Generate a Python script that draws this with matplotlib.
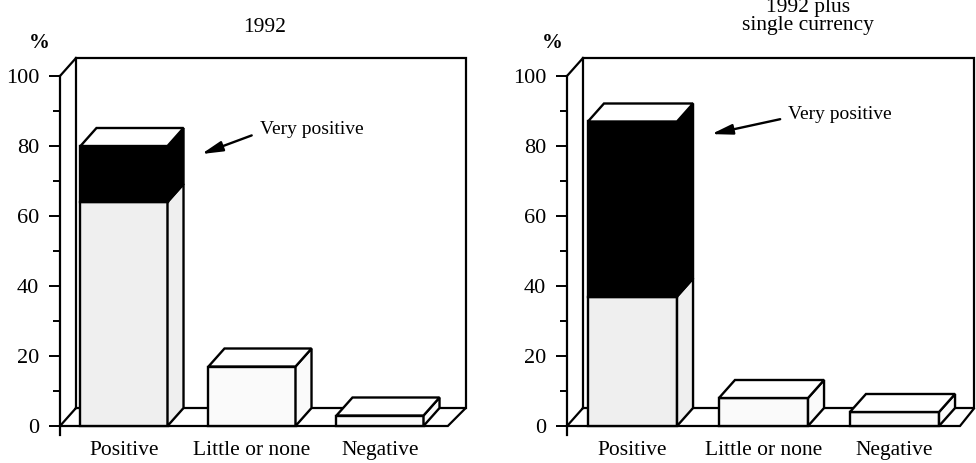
import matplotlib
matplotlib.use('Agg')
import matplotlib.pyplot as plt
from matplotlib.patches import Polygon
import numpy as np

plt.rcParams['font.family'] = ['Liberation Serif', 'DejaVu Serif']

# ---------------- data ----------------
categories = ['Positive', 'Little or none', 'Negative']
panel_titles = ['1992', '1992 plus\nsingle currency']
base_1992 = [64, 17, 3]        # stippled part
very_1992 = [16, 0, 0]         # black "very positive" part
base_single = [37, 8, 4]
very_single = [50, 0, 0]
annotation_text = 'Very positive'
yticks_major = [0, 20, 40, 60, 80, 100]
yticks_minor = [10, 30, 50, 70, 90]

# ---------------- layout ----------------
W, H = 976, 463
fig = plt.figure(figsize=(W / 100, H / 100), dpi=100)
ORIGIN_Y = 426      # pixel row of y = 0 (from top)
PX_PER_Y = 3.5
YMAX = 105.5
STIPPLE = '#efefef'


def make_axes(x_axis_px, ppu, xmax):
    xmin = -0.5
    width_px = (xmax - xmin) * ppu
    ax = fig.add_axes([x_axis_px / W, (H - ORIGIN_Y) / H, width_px / W, YMAX * PX_PER_Y / H])
    ax.set_xlim(xmin, xmax)
    ax.set_ylim(0, YMAX)
    ax.patch.set_alpha(0)
    return ax


def poly(ax, pts, fc, z=3, lw=1.7):
    ax.add_patch(Polygon(pts, closed=True, facecolor=fc, edgecolor='black',
                         lw=lw, joinstyle='miter', zorder=z, clip_on=False))


def draw_panel(ax, base, very, title, ppu, floor_end, wall_end, title_pos, pct_pos,
               ann_text_pos, ann_head_off):
    dx = 16 / ppu
    dy = 18 / PX_PER_Y
    x0 = -0.5
    kw = dict(color='black', lw=1.6, clip_on=False, zorder=1, solid_joinstyle='miter')
    # back wall
    ax.plot([x0 + dx, x0 + dx, wall_end, wall_end], [dy, 100 + dy, 100 + dy, dy], **kw)
    ax.plot([x0, x0 + dx], [100, 100 + dy], **kw)
    # floor
    ax.plot([x0 + dx, wall_end, floor_end, x0, x0 + dx], [dy, dy, 0, 0, dy], **kw)
    # y-axis extension below zero
    ax.plot([x0, x0], [-2.5, 0], **kw)

    hw = 0.34
    for i, (b, v) in enumerate(zip(base, very)):
        xl, xr = i - hw, i + hw
        total = b + v
        fc = STIPPLE if i == 0 else '#fafafa'
        poly(ax, [(xl, 0), (xr, 0), (xr, b), (xl, b)], fc)
        poly(ax, [(xr, 0), (xr + dx, dy), (xr + dx, b + dy), (xr, b)], fc)
        if v > 0:
            poly(ax, [(xl, b), (xr, b), (xr, total), (xl, total)], 'black')
            poly(ax, [(xr, b), (xr + dx, b + dy), (xr + dx, total + dy), (xr, total)], 'black')
        poly(ax, [(xl, total), (xr, total), (xr + dx, total + dy), (xl + dx, total + dy)], 'white')

    # annotation for the black segment
    top0 = base[0] + very[0]
    ax.annotate(annotation_text,
                xy=(hw + dx + ann_head_off[0], top0 + ann_head_off[1]),
                xytext=ann_text_pos, fontsize=14, ha='left', va='center',
                annotation_clip=False,
                arrowprops=dict(arrowstyle='-|>,head_length=0.9,head_width=0.22',
                                color='black', lw=1.7, shrinkA=4, shrinkB=0,
                                relpos=(0, 0.35)))

    # axes styling
    for s in ['top', 'right', 'bottom']:
        ax.spines[s].set_visible(False)
    ax.spines['left'].set_bounds(0, 100)
    ax.spines['left'].set_linewidth(1.6)
    ax.set_yticks(yticks_major)
    ax.set_yticks(yticks_minor, minor=True)
    ax.tick_params(axis='y', which='major', direction='out', length=8, width=1.4,
                   pad=7, labelsize=16)
    ax.tick_params(axis='y', which='minor', direction='out', length=5, width=1.4)
    ax.set_xticks(range(len(categories)), categories)
    ax.tick_params(axis='x', length=0, pad=10.5, labelsize=15.5)

    ax.text(title_pos[0], title_pos[1], title, ha='center', va='bottom', fontsize=15.5,
            linespacing=0.92, clip_on=False)
    ax.text(pct_pos[0], pct_pos[1], '%', ha='center', va='center', fontsize=15,
            fontweight='bold', clip_on=False)


# left panel: 1992
ppu_l = 128
ax1 = make_axes(60, ppu_l, 2.75)
draw_panel(ax1, base_1992, very_1992, panel_titles[0], ppu_l,
           floor_end=2.53, wall_end=2.67, title_pos=(1.10, 111.0), pct_pos=(-0.66, 109.4),
           ann_text_pos=(1.06, 84.6), ann_head_off=(0.14, -2.3))

# right panel: 1992 plus single currency
ppu_r = 131
ax2 = make_axes(567, ppu_r, 2.62)
draw_panel(ax2, base_single, very_single, panel_titles[1], ppu_r,
           floor_end=2.50, wall_end=2.61, title_pos=(1.34, 111.8), pct_pos=(-0.61, 109.4),
           ann_text_pos=(1.19, 88.9), ann_head_off=(0.14, -3.6))

fig.savefig('out.png', dpi=100)
